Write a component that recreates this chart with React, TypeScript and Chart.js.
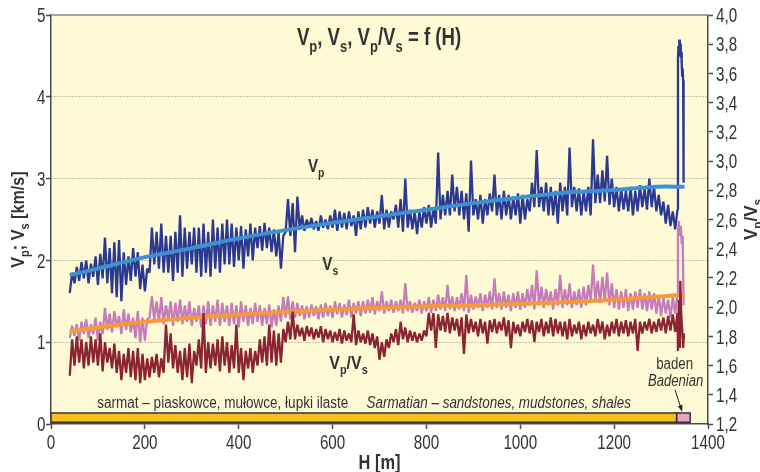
import React, { useEffect, useRef } from 'react';
import { Chart, registerables } from 'chart.js';

Chart.register(...registerables);

// ---------------- DATA ----------------
// noisy logs sampled every 10 m starting at 40 m: low / high envelope values
const DEPTH_START = 40;
const DEPTH_STEP = 10;

// Vp [km/s] (left axis)
const vpLow = [
  1.60, 1.72, 1.75, 1.78, 1.72, 1.80, 1.70, 1.78, 1.72, 1.60,
  1.55, 1.50, 1.70, 1.75, 1.80, 1.65, 1.62, 1.85, 1.95, 1.90,
  1.85, 1.85, 1.75, 1.85, 1.80, 1.90, 1.95, 1.85, 1.80, 1.85,
  1.80, 1.90, 1.85, 1.95, 1.95, 1.92, 2.00, 1.90, 2.05, 2.00,
  2.15, 2.12, 2.15, 2.10, 2.05, 1.90, 2.35, 2.30, 2.10, 2.38,
  2.36, 2.40, 2.38, 2.36, 2.40, 2.38, 2.40, 2.36, 2.40, 2.38,
  2.42, 2.30, 2.38, 2.40, 2.45, 2.40, 2.45, 2.38, 2.40, 2.50,
  2.40, 2.35, 2.40, 2.38, 2.32, 2.40, 2.45, 2.40, 2.45, 2.50,
  2.55, 2.55, 2.60, 2.55, 2.50, 2.35, 2.55, 2.50, 2.45, 2.55,
  2.60, 2.55, 2.50, 2.55, 2.50, 2.55, 2.45, 2.50, 2.60, 2.65,
  2.65, 2.60, 2.55, 2.55, 2.45, 2.60, 2.55, 2.65, 2.60, 2.55,
  2.60, 2.55, 2.70, 2.70, 2.72, 2.68, 2.65, 2.60, 2.62, 2.60,
  2.55, 2.60, 2.65, 2.62, 2.65, 2.60, 2.55, 2.45, 2.42, 2.38,
];
const vpHigh = [
  1.85, 1.92, 1.98, 2.00, 1.96, 2.05, 2.08, 2.28, 2.15, 2.22,
  2.25, 2.10, 2.05, 2.15, 2.10, 1.95, 1.90, 2.40, 2.35, 2.45,
  2.30, 2.30, 2.35, 2.55, 2.40, 2.35, 2.40, 2.40, 2.45, 2.35,
  2.50, 2.40, 2.45, 2.50, 2.45, 2.40, 2.42, 2.38, 2.45, 2.40,
  2.42, 2.46, 2.40, 2.38, 2.35, 2.30, 2.75, 2.70, 2.78, 2.55,
  2.50, 2.52, 2.48, 2.55, 2.50, 2.55, 2.62, 2.60, 2.58, 2.60,
  2.55, 2.60, 2.62, 2.65, 2.62, 2.60, 2.80, 2.62, 2.60, 2.68,
  2.75, 3.00, 2.62, 2.60, 2.60, 2.65, 2.68, 2.65, 3.32, 2.80,
  2.85, 3.05, 2.90, 2.85, 2.82, 3.22, 2.75, 2.80, 2.75, 2.82,
  3.05, 2.80, 2.85, 2.80, 2.78, 2.82, 2.80, 2.75, 2.95, 3.35,
  2.90, 2.95, 2.90, 2.85, 2.95, 2.90, 3.38, 2.90, 2.88, 2.85,
  2.90, 3.48, 3.05, 3.10, 3.28, 3.00, 2.90, 2.88, 2.85, 2.90,
  2.85, 2.92, 2.88, 3.00, 2.90, 2.80, 2.72, 2.68, 2.60, 2.62,
];
const vpTailDepth = [1336, 1337, 1338, 1339, 1340, 1341, 1342, 1343, 1344, 1345, 1346, 1347, 1348];
const vpTail = [4.45, 4.62, 4.50, 4.70, 4.55, 4.65, 4.48, 4.55, 4.40, 4.25, 4.35, 4.20, 2.95];

// Vs [km/s] (left axis)
const vsLow = [
  1.05, 1.08, 1.02, 1.10, 1.05, 1.10, 1.02, 1.10, 1.15, 1.12,
  1.18, 1.10, 1.15, 1.12, 1.05, 1.00, 1.02, 1.30, 1.28, 1.25,
  1.22, 1.28, 1.20, 1.25, 1.22, 1.25, 1.20, 1.25, 1.18, 1.22,
  1.20, 1.25, 1.20, 1.25, 1.20, 1.22, 1.18, 1.25, 1.20, 1.22,
  1.25, 1.20, 1.22, 1.18, 1.20, 1.25, 1.30, 1.28, 1.30, 1.32,
  1.28, 1.30, 1.32, 1.28, 1.30, 1.32, 1.30, 1.34, 1.30, 1.33,
  1.30, 1.35, 1.32, 1.35, 1.36, 1.34, 1.38, 1.35, 1.38, 1.36,
  1.38, 1.35, 1.38, 1.36, 1.38, 1.35, 1.38, 1.36, 1.38, 1.40,
  1.38, 1.40, 1.38, 1.40, 1.38, 1.36, 1.40, 1.42, 1.38, 1.42,
  1.40, 1.42, 1.40, 1.42, 1.38, 1.42, 1.40, 1.42, 1.45, 1.40,
  1.45, 1.42, 1.45, 1.40, 1.45, 1.42, 1.45, 1.42, 1.45, 1.42,
  1.45, 1.48, 1.50, 1.48, 1.50, 1.45, 1.42, 1.40, 1.42, 1.38,
  1.40, 1.42, 1.40, 1.38, 1.40, 1.35, 1.32, 1.35, 1.30, 1.35,
];
const vsHigh = [
  1.20, 1.22, 1.25, 1.28, 1.22, 1.30, 1.25, 1.42, 1.35, 1.38,
  1.32, 1.40, 1.35, 1.30, 1.38, 1.30, 1.28, 1.56, 1.50, 1.55,
  1.45, 1.50, 1.48, 1.52, 1.45, 1.50, 1.42, 1.45, 1.45, 1.50,
  1.45, 1.52, 1.48, 1.45, 1.48, 1.45, 1.50, 1.45, 1.42, 1.48,
  1.45, 1.42, 1.46, 1.40, 1.45, 1.55, 1.56, 1.50, 1.48, 1.45,
  1.44, 1.46, 1.44, 1.46, 1.48, 1.45, 1.50, 1.48, 1.46, 1.52,
  1.48, 1.50, 1.50, 1.52, 1.55, 1.50, 1.62, 1.50, 1.52, 1.50,
  1.52, 1.72, 1.50, 1.48, 1.52, 1.50, 1.55, 1.52, 1.58, 1.55,
  1.70, 1.56, 1.55, 1.60, 1.82, 1.58, 1.56, 1.60, 1.58, 1.62,
  1.78, 1.60, 1.62, 1.58, 1.60, 1.62, 1.60, 1.65, 1.70, 1.88,
  1.68, 1.65, 1.62, 1.65, 1.82, 1.65, 1.72, 1.62, 1.65, 1.68,
  1.70, 1.95, 1.75, 1.80, 1.85, 1.72, 1.65, 1.62, 1.65, 1.60,
  1.62, 1.65, 1.60, 1.62, 1.60, 1.58, 1.55, 1.52, 1.55, 1.60,
];
const vsTailDepth = [1336, 1338, 1340, 1342, 1344, 1346, 1348];
const vsTail = [2.35, 2.48, 2.30, 2.42, 2.20, 2.30, 1.45];

// Vp/Vs (right axis)
const ratioLow = [
  1.53, 1.60, 1.62, 1.58, 1.60, 1.62, 1.60, 1.56, 1.62, 1.58,
  1.55, 1.50, 1.55, 1.52, 1.50, 1.48, 1.50, 1.52, 1.55, 1.52,
  1.55, 1.62, 1.58, 1.55, 1.50, 1.52, 1.48, 1.60, 1.58, 1.55,
  1.58, 1.60, 1.56, 1.60, 1.55, 1.58, 1.55, 1.50, 1.58, 1.55,
  1.60, 1.62, 1.60, 1.62, 1.60, 1.62, 1.76, 1.78, 1.78, 1.80,
  1.77, 1.80, 1.78, 1.79, 1.76, 1.78, 1.76, 1.77, 1.75, 1.77,
  1.76, 1.74, 1.76, 1.75, 1.74, 1.72, 1.64, 1.66, 1.72, 1.76,
  1.74, 1.78, 1.76, 1.77, 1.76, 1.77, 1.80, 1.84, 1.72, 1.84,
  1.83, 1.82, 1.84, 1.80, 1.68, 1.82, 1.83, 1.80, 1.82, 1.75,
  1.83, 1.82, 1.84, 1.80, 1.72, 1.82, 1.80, 1.83, 1.82, 1.76,
  1.83, 1.80, 1.82, 1.80, 1.82, 1.80, 1.78, 1.80, 1.82, 1.78,
  1.80, 1.82, 1.80, 1.82, 1.78, 1.80, 1.82, 1.80, 1.82, 1.80,
  1.82, 1.70, 1.82, 1.84, 1.82, 1.83, 1.84, 1.82, 1.84, 1.83,
];
const ratioHigh = [
  1.78, 1.80, 1.78, 1.76, 1.80, 1.78, 1.82, 1.76, 1.72, 1.75,
  1.70, 1.68, 1.72, 1.70, 1.72, 1.68, 1.65, 1.66, 1.68, 1.65,
  1.88, 1.82, 1.74, 1.70, 1.72, 1.75, 1.70, 1.78, 1.96, 1.76,
  1.75, 1.78, 1.80, 1.76, 1.74, 1.88, 1.72, 1.70, 1.72, 1.70,
  1.78, 1.80, 1.88, 1.84, 1.82, 1.85, 1.90, 1.97, 1.88, 1.86,
  1.87, 1.86, 1.85, 1.87, 1.85, 1.84, 1.83, 1.85, 1.84, 1.82,
  1.95, 1.84, 1.82, 1.84, 1.82, 1.80, 1.76, 1.78, 1.82, 1.85,
  1.90, 1.86, 1.84, 1.83, 1.82, 1.84, 1.96, 1.96, 1.95, 1.94,
  1.96, 1.93, 1.92, 1.93, 1.95, 1.92, 1.90, 1.92, 1.90, 1.91,
  1.92, 1.90, 1.93, 1.91, 1.90, 1.88, 1.90, 1.92, 1.91, 1.90,
  1.92, 1.90, 1.93, 1.92, 1.90, 1.90, 1.92, 1.88, 1.90, 1.88,
  1.90, 1.88, 1.92, 1.90, 1.88, 1.90, 1.92, 1.90, 1.91, 1.90,
  1.92, 1.90, 1.90, 1.92, 1.90, 1.92, 1.93, 1.94, 1.95, 1.96,
];
const ratioTailDepth = [1336, 1338, 1340, 1341, 1343, 1345, 1347, 1349];
const ratioTail = [1.70, 2.05, 1.72, 2.18, 1.95, 1.85, 1.72, 1.82];

// smoothed trends
const vpTrendDepth = [40, 100, 200, 300, 400, 500, 600, 700, 800, 900, 1000, 1100, 1200, 1290, 1350];
const vpTrend = [1.82, 1.90, 2.04, 2.15, 2.27, 2.37, 2.46, 2.54, 2.62, 2.70, 2.77, 2.83, 2.86, 2.90, 2.90];
const vsTrendDepth = [40, 100, 200, 300, 400, 500, 600, 700, 800, 900, 1000, 1100, 1200, 1300, 1350];
const vsTrend = [1.13, 1.18, 1.25, 1.30, 1.34, 1.37, 1.40, 1.42, 1.44, 1.45, 1.47, 1.49, 1.52, 1.56, 1.58];

// stratigraphic units (bottom bar)
const unitNames = ['sarmat', 'baden'];
const unitTop = [0, 1333];
const unitBottom = [1333, 1362];
const unitBand = [0.02, 0.135];

// tick labels
const xTicks = [0, 200, 400, 600, 800, 1000, 1200, 1400];
const leftTicks = [0, 1, 2, 3, 4, 5];
const rightTicks = ['1,2', '1,4', '1,6', '1,8', '2,0', '2,2', '2,4', '2,6', '2,8', '3,0', '3,2', '3,4', '3,6', '3,8', '4,0'];

// ---------------- STYLE ----------------
const FONT = '"Liberation Sans", Arial, Helvetica, sans-serif';
const BG = '#fffad6';
const TEXT = '#333333';
const AXIS = '#4a4a4a';
const C_VP = '#2b3a8f';
const C_VP_TREND = '#3f8fd5';
const C_VS = '#c57cba';
const C_VS_TREND = '#f5993a';
const C_RATIO = '#8a2431';
const UNIT_COLORS = ['#f9be20', '#e9a2c6'];

type Part = [string, boolean];
type Label = { parts: Part[]; x: number; y: number; size: number; sx: number; bold?: boolean; italic?: boolean };

const labels: Label[] = [
  { parts: [['V', false], ['p', true], [', V', false], ['s', true], [', V', false], ['p', true], ['/V', false], ['s', true], [' = f (H)', false]], x: 699, y: 4.73, size: 23, sx: 0.81, bold: true },
  { parts: [['V', false], ['p', true]], x: 565, y: 3.165, size: 19, sx: 0.8, bold: true },
  { parts: [['V', false], ['s', true]], x: 595, y: 1.97, size: 19, sx: 0.8, bold: true },
  { parts: [['V', false], ['p', true], ['/V', false], ['s', true]], x: 634, y: 0.752, size: 19, sx: 0.84, bold: true },
  { parts: [['sarmat – piaskowce, mułowce, łupki ilaste', false]], x: 366, y: 0.27, size: 16, sx: 0.845 },
  { parts: [['Sarmatian – sandstones, mudstones, shales', false]], x: 954, y: 0.27, size: 16, sx: 0.84, italic: true },
  { parts: [['baden', false]], x: 1329, y: 0.74, size: 16, sx: 0.83 },
  { parts: [['Badenian', false]], x: 1331, y: 0.535, size: 16, sx: 0.82, italic: true },
];
const arrowFrom = { x: 1329.5, y: 0.42 };
const arrowTo = { x: 1345, y: 0.15 };

// ---------------- HELPERS ----------------
function zigzag(lo: number[], hi: number[], tailD: number[], tailV: number[]) {
  const pts: { x: number; y: number }[] = [];
  lo.forEach((l, i) => {
    const d = DEPTH_START + i * DEPTH_STEP;
    pts.push({ x: d, y: l });
    pts.push({ x: d + DEPTH_STEP / 2, y: hi[i] });
  });
  tailD.forEach((d, i) => pts.push({ x: d, y: tailV[i] }));
  return pts;
}
function pairs(xs: number[], ys: number[]) {
  return xs.map((x, i) => ({ x, y: ys[i] }));
}
function rect(x0: number, x1: number, y0: number, y1: number) {
  return [{ x: x0, y: y0 }, { x: x0, y: y1 }, { x: x1, y: y1 }, { x: x1, y: y0 }, { x: x0, y: y0 }];
}

type RichOpts = { bold?: boolean; italic?: boolean; rotate?: number; color?: string; sx?: number; align?: 'left' | 'center' | 'right' };
function drawRich(ctx: CanvasRenderingContext2D, parts: Part[], x: number, y: number, size: number, o: RichOpts) {
  const st = (o.italic ? 'italic ' : '') + (o.bold ? 'bold ' : '');
  const mainFont = `${st}${size}px ${FONT}`;
  const subFont = `${st}${Math.round(size * 0.7)}px ${FONT}`;
  const widths: number[] = [];
  let w = 0;
  parts.forEach(([t, sub]) => {
    ctx.font = sub ? subFont : mainFont;
    const m = ctx.measureText(t).width;
    widths.push(m);
    w += m;
  });
  ctx.save();
  ctx.translate(x, y);
  if (o.rotate) ctx.rotate(o.rotate);
  ctx.scale(o.sx ?? 1, 1);
  ctx.textAlign = 'left';
  ctx.textBaseline = 'alphabetic';
  ctx.fillStyle = o.color || TEXT;
  const align = o.align || 'center';
  let cx = align === 'center' ? -w / 2 : align === 'right' ? -w : 0;
  const base = size * 0.36;
  parts.forEach(([t, sub], i) => {
    ctx.font = sub ? subFont : mainFont;
    ctx.fillText(t, cx, base + (sub ? size * 0.27 : 0));
    cx += widths[i];
  });
  ctx.restore();
}

const decorPlugin = {
  id: 'decor',
  beforeDraw(chart: any) {
    const { ctx, chartArea: a } = chart;
    ctx.save();
    ctx.fillStyle = BG;
    ctx.fillRect(a.left, a.top, a.right - a.left, a.bottom - a.top);
    ctx.restore();
  },
  afterDraw(chart: any) {
    const { ctx, chartArea: a, scales } = chart;
    const sx = scales.x, sy = scales.y, sy2 = scales.y2;
    // top frame line
    ctx.save();
    ctx.strokeStyle = '#8a8a8a';
    ctx.lineWidth = 1.5;
    ctx.beginPath();
    ctx.moveTo(a.left, a.top);
    ctx.lineTo(a.right, a.top);
    ctx.stroke();
    ctx.restore();

    // tick labels (condensed)
    const tickSize = 20, tickSx = 0.76;
    xTicks.forEach((v) => drawRich(ctx, [[String(v), false]], sx.getPixelForValue(v), a.bottom + 17.5, tickSize, { sx: tickSx }));
    leftTicks.forEach((v) => drawRich(ctx, [[String(v), false]], a.left - 5.5, sy.getPixelForValue(v), tickSize, { sx: tickSx, align: 'right' }));
    rightTicks.forEach((t) => drawRich(ctx, [[t, false]], a.right + 8, sy2.getPixelForValue(parseFloat(t.replace(',', '.'))), tickSize, { sx: tickSx, align: 'left' }));

    labels.forEach((l) => {
      drawRich(ctx, l.parts, sx.getPixelForValue(l.x), sy.getPixelForValue(l.y), l.size, { bold: l.bold, italic: l.italic, sx: l.sx });
    });

    // arrow to the baden unit
    const x1 = sx.getPixelForValue(arrowFrom.x), y1 = sy.getPixelForValue(arrowFrom.y);
    const x2 = sx.getPixelForValue(arrowTo.x), y2 = sy.getPixelForValue(arrowTo.y);
    const ang = Math.atan2(y2 - y1, x2 - x1);
    ctx.save();
    ctx.strokeStyle = '#222';
    ctx.fillStyle = '#222';
    ctx.lineWidth = 1;
    ctx.beginPath();
    ctx.moveTo(x1, y1);
    ctx.lineTo(x2 - 5 * Math.cos(ang), y2 - 5 * Math.sin(ang));
    ctx.stroke();
    ctx.beginPath();
    ctx.moveTo(x2, y2);
    ctx.lineTo(x2 - 7 * Math.cos(ang - 0.35), y2 - 7 * Math.sin(ang - 0.35));
    ctx.lineTo(x2 - 7 * Math.cos(ang + 0.35), y2 - 7 * Math.sin(ang + 0.35));
    ctx.closePath();
    ctx.fill();
    ctx.restore();

    // axis titles
    const midY = (a.top + a.bottom) / 2;
    drawRich(ctx, [['V', false], ['p', true], ['; V', false], ['s', true], [' [km/s]', false]], a.left - 34, midY, 19, { bold: true, rotate: -Math.PI / 2, sx: 0.85 });
    drawRich(ctx, [['V', false], ['p', true], ['/V', false], ['s', true]], a.right + 42, midY, 19, { bold: true, rotate: -Math.PI / 2, sx: 0.9 });
    drawRich(ctx, [['H [m]', false]], (a.left + a.right) / 2, 461.5, 20, { bold: true, sx: 0.82 });
  },
};

export default function App() {
  const ref = useRef<HTMLCanvasElement>(null);
  useEffect(() => {
    if (!ref.current) return;
    const unitSets = unitNames.map((name, i) => ({
      label: name,
      data: rect(unitTop[i], unitBottom[i], unitBand[0], unitBand[1]),
      borderColor: '#333',
      borderWidth: 1.5,
      backgroundColor: UNIT_COLORS[i],
      fill: 'shape',
      pointRadius: 0,
      tension: 0,
      yAxisID: 'y',
      order: 10,
    }));
    const noisy = { pointRadius: 0, tension: 0, borderWidth: 2.3, borderJoinStyle: 'bevel' as const };
    const chart = new Chart(ref.current, {
      type: 'line',
      data: {
        datasets: [
          { label: 'Vp trend', data: pairs(vpTrendDepth, vpTrend), borderColor: C_VP_TREND, borderWidth: 4, pointRadius: 0, tension: 0.3, yAxisID: 'y', order: 0 },
          { label: 'Vp', data: zigzag(vpLow, vpHigh, vpTailDepth, vpTail), borderColor: C_VP, ...noisy, yAxisID: 'y', order: 1 },
          { label: 'Vp/Vs', data: zigzag(ratioLow, ratioHigh, ratioTailDepth, ratioTail), borderColor: C_RATIO, ...noisy, yAxisID: 'y2', order: 2 },
          { label: 'Vs trend', data: pairs(vsTrendDepth, vsTrend), borderColor: C_VS_TREND, borderWidth: 4, pointRadius: 0, tension: 0.3, yAxisID: 'y', order: 3 },
          { label: 'Vs', data: zigzag(vsLow, vsHigh, vsTailDepth, vsTail), borderColor: C_VS, ...noisy, yAxisID: 'y', order: 4 },
          ...unitSets,
        ] as any,
      },
      options: {
        animation: false,
        responsive: false,
        maintainAspectRatio: false,
        layout: { padding: { top: 15, left: 0, right: 0, bottom: 0 } },
        plugins: { legend: { display: false }, tooltip: { enabled: false }, title: { display: false } },
        scales: {
          x: {
            type: 'linear', min: 0, max: 1400,
            afterBuildTicks: (s: any) => { s.ticks = xTicks.map((v) => ({ value: v })); },
            ticks: { display: false },
            grid: { drawOnChartArea: false, tickLength: 5, tickColor: AXIS, tickWidth: 1.5 },
            border: { color: AXIS, width: 1.5 },
            afterFit: (s: any) => { s.height = 48; },
          },
          y: {
            type: 'linear', position: 'left', min: 0, max: 5,
            afterBuildTicks: (s: any) => { s.ticks = leftTicks.map((v) => ({ value: v })); },
            ticks: { display: false },
            grid: {
              color: (c: any) => (c.tick && (c.tick.value === 0 || c.tick.value === 5)) ? 'rgba(0,0,0,0)' : '#8f8f86',
              lineWidth: 1, tickLength: 5, tickColor: AXIS, tickWidth: 1.5,
            },
            border: { color: AXIS, width: 1.5, dash: [1, 2] },
            afterFit: (s: any) => { s.width = 51; },
          },
          y2: {
            type: 'linear', position: 'right', min: 1.2, max: 4.0,
            afterBuildTicks: (s: any) => { s.ticks = rightTicks.map((t) => ({ value: parseFloat(t.replace(',', '.')) })); },
            ticks: { display: false },
            grid: { drawOnChartArea: false, tickLength: 5, tickColor: AXIS, tickWidth: 1.5 },
            border: { color: AXIS, width: 1.5 },
            afterFit: (s: any) => { s.width = 52; },
          },
        },
      } as any,
      plugins: [decorPlugin],
    });
    return () => chart.destroy();
  }, []);
  return (
    <div style={{ position: 'absolute', left: 0, top: 0, width: 760, height: 472, background: '#fff' }}>
      <canvas ref={ref} width={760} height={472} style={{ display: 'block', width: 760, height: 472 }} />
    </div>
  );
}
